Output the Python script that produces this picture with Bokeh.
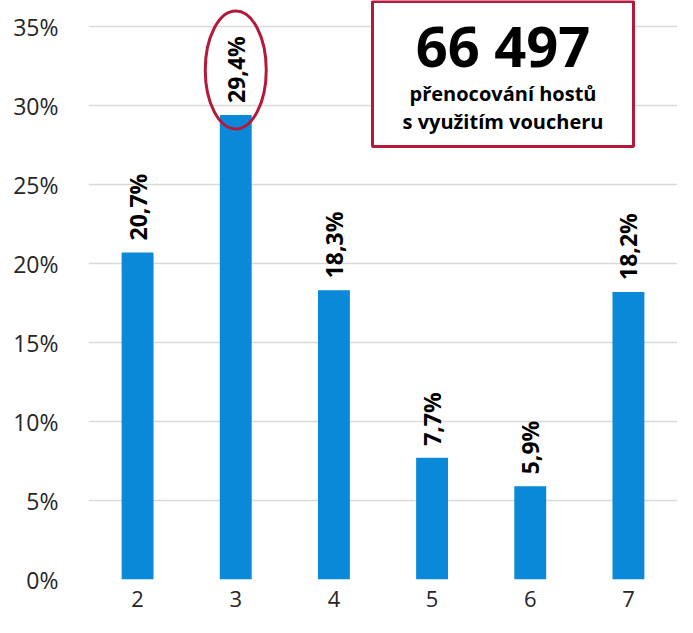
import math
from bokeh.plotting import figure
from bokeh.models import Range1d, FixedTicker, ColumnDataSource
from bokeh.core.properties import value
from bokeh.embed import file_html
from bokeh.resources import INLINE

# ---- data ----
categories = [2, 3, 4, 5, 6, 7]
shares = [20.7, 29.4, 18.3, 7.7, 5.9, 18.2]          # percent
y_ticks = [0, 5, 10, 15, 20, 25, 30, 35]
highlight_category = 3
headline_number = "66 497"
headline_lines = ["přenocování hostů", "s využitím voucheru"]

# ---- layout ----
W, H = 677, 617
BORDER_L, BORDER_B = 88, 38
frame_h = H - BORDER_B
px_per_pct = (frame_h - 26) / 35.0
Y_END = frame_h / px_per_pct
frame_w = W - BORDER_L
px_per_cat = frame_w / 6.0


def ydata(py):
    """vertical pixel position (from top of figure) -> data value"""
    return (frame_h - py) / px_per_pct


def xdata(px):
    return 1.5 + (px - BORDER_L) / px_per_cat


BLUE = "#0A89D9"
RED = "#B4193A"
FONT = "Open Sans"

p = figure(width=W, height=H, output_backend="svg", toolbar_location=None,
           x_range=Range1d(1.5, 7.5), y_range=Range1d(0, Y_END),
           min_border_left=BORDER_L, min_border_right=0,
           min_border_top=0, min_border_bottom=BORDER_B)
p.outline_line_color = None
p.background_fill_color = "white"

labels = [f"{v:.1f}".replace(".", ",") + "%" for v in shares]
src = ColumnDataSource(dict(x=categories, top=shares, label=labels))

p.vbar(x="x", top="top", width=0.325, bottom=0, source=src,
       fill_color=BLUE, line_color=None)

p.text(x="x", y="top", text="label", source=src, angle=math.pi / 2,
       text_align="left", text_baseline="middle", x_offset=0, y_offset=-12,
       text_font=value(FONT), text_font_style="bold", text_font_size="23px",
       text_color="black")

# highlight ellipse around the label of category 3
hi_val = shares[categories.index(highlight_category)]
p.ellipse(x=[highlight_category], y=[hi_val + 45 / px_per_pct],
          width=[61], height=[118], width_units="screen", height_units="screen",
          fill_color=None, line_color=RED, line_width=3)

# headline box
box_left, box_right = xdata(372), xdata(633)
box_top, box_bottom = ydata(1), ydata(146)
p.quad(left=[box_left], right=[box_right], top=[box_top], bottom=[box_bottom],
       fill_color="white", line_color=RED, line_width=3)
cx = (box_left + box_right) / 2
p.text(x=[cx], y=[ydata(44)], text=[headline_number],
       text_align="center", text_baseline="middle",
       text_font=value(FONT), text_font_style="bold", text_font_size="56px",
       text_color="black")
p.text(x=[cx, cx], y=[ydata(93), ydata(121)],
       text=headline_lines, text_align="center", text_baseline="middle",
       text_font=value(FONT), text_font_style="bold", text_font_size="20px",
       text_color="black")

# axes
p.xaxis.ticker = FixedTicker(ticks=categories)
p.xaxis.major_label_overrides = {c: str(c) for c in categories}
p.yaxis.ticker = FixedTicker(ticks=y_ticks)
p.yaxis.major_label_overrides = {t: f"{t}%" for t in y_ticks}
for ax in (p.xaxis, p.yaxis):
    ax.axis_line_color = None
    ax.major_tick_line_color = None
    ax.minor_tick_line_color = None
    ax.major_label_text_font = FONT
    ax.major_label_text_font_size = "23px"
    ax.major_label_text_color = "#262626"
p.yaxis.major_label_standoff = 24
p.xaxis.major_label_standoff = 5
p.xaxis.major_label_text_font_size = "22px"

p.xgrid.grid_line_color = None
p.ygrid.grid_line_color = "#D9D9D9"
p.ygrid.grid_line_width = 1.5

open("out.html", "w").write(file_html(p, INLINE))
